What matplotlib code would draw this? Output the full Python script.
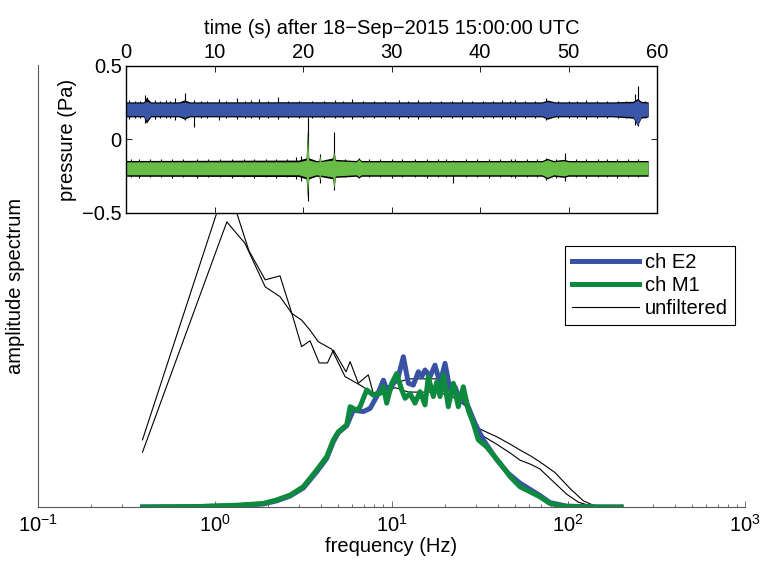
import matplotlib
matplotlib.use('Agg')
import matplotlib.pyplot as plt
from matplotlib.ticker import LogLocator, NullFormatter

plt.rcParams['font.family'] = ['Liberation Sans', 'DejaVu Sans']
plt.rcParams['mathtext.fontset'] = 'custom'
plt.rcParams['mathtext.rm'] = 'Liberation Sans'
plt.rcParams['mathtext.it'] = 'Liberation Sans:italic'
plt.rcParams['font.size'] = 14.5

# ---- spectra (main axes), frequency in Hz, amplitude normalised ----
F_E2 = [0.39, 0.8, 1.33, 1.88, 2.24, 2.67, 3.17, 3.78, 4.30, 4.69, 5.00, 5.58, 6.08, 6.93, 7.56,
        8.25, 8.99, 9.59, 10.24, 10.93, 11.67, 12.45, 13.29, 14.18, 14.82, 15.47, 16.51, 17.62,
        18.81, 20.08, 21.43, 22.87, 24.41, 26.64, 29.68, 33.07, 39.4, 45.8, 53.3, 69.2, 78.8,
        98, 150, 199]
A_E2 = [0.0, 0.001, 0.003, 0.007, 0.014, 0.025, 0.043, 0.080, 0.110, 0.148, 0.168, 0.184, 0.219,
        0.216, 0.223, 0.250, 0.287, 0.257, 0.280, 0.295, 0.340, 0.280, 0.276, 0.306, 0.295, 0.310,
        0.295, 0.321, 0.280, 0.325, 0.265, 0.272, 0.242, 0.235, 0.189, 0.152, 0.107, 0.076, 0.054,
        0.026, 0.010, 0.002, 0.0, 0.0]

F_M1 = [0.39, 0.8, 1.33, 1.88, 2.24, 2.67, 3.17, 3.78, 4.30, 4.69, 5.00, 5.58, 5.83, 6.36, 6.64,
        7.24, 7.89, 8.61, 8.99, 9.39, 10.03, 10.70, 11.42, 11.93, 12.73, 13.58, 14.50, 15.47,
        16.15, 17.24, 18.02, 18.81, 19.64, 20.96, 22.37, 23.87, 25.48, 27.20, 29.03, 30.98,
        34.56, 41.1, 46.8, 53.3, 69.2, 78.8, 98, 150, 199]
A_M1 = [0.0, 0.001, 0.004, 0.008, 0.016, 0.027, 0.046, 0.084, 0.114, 0.152, 0.170, 0.186, 0.227,
        0.219, 0.227, 0.265, 0.253, 0.257, 0.272, 0.235, 0.280, 0.302, 0.265, 0.246, 0.257, 0.235,
        0.261, 0.231, 0.295, 0.250, 0.283, 0.250, 0.299, 0.227, 0.280, 0.227, 0.272, 0.219, 0.189,
        0.152, 0.136, 0.099, 0.069, 0.046, 0.023, 0.008, 0.001, 0.0, 0.0]

F_RAW_A = [0.39, 1.17, 1.56, 1.93, 2.34, 2.73, 3.10, 3.46, 3.90, 4.34, 4.69, 5.53, 5.83, 6.49,
           7.39, 7.89, 9.0, 10.5, 12.5, 15.0, 18.0, 22.0, 26.0, 30.98, 39.4, 47.0, 53.3, 61.0,
           69.2, 84.1, 102.3, 121.7, 138.6, 150]
A_RAW_A = [0.152, 0.735, 0.58, 0.514, 0.523, 0.438, 0.363, 0.376, 0.326, 0.326, 0.355, 0.306,
           0.329, 0.280, 0.299, 0.257, 0.27, 0.28, 0.29, 0.29, 0.29, 0.27, 0.24, 0.178, 0.159,
           0.142, 0.129, 0.116, 0.102, 0.078, 0.042, 0.014, 0.004, 0.0]

F_RAW_B = [0.39, 1.17, 1.48, 1.93, 2.34, 2.73, 3.10, 3.46, 3.85, 4.59, 5.46, 6.64, 7.89, 9.0,
           10.5, 12.5, 15.0, 18.0, 22.0, 26.0, 30.98, 39.4, 47.0, 53.3, 61.0, 69.2, 82.0, 98.0,
           114, 132.7, 150]
A_RAW_B = [0.124, 0.645, 0.597, 0.498, 0.476, 0.438, 0.423, 0.400, 0.374, 0.357, 0.295, 0.276,
           0.257, 0.26, 0.27, 0.26, 0.26, 0.26, 0.25, 0.23, 0.167, 0.142, 0.122, 0.106, 0.097,
           0.086, 0.058, 0.029, 0.011, 0.003, 0.0]

# ---- pressure traces (inset), envelopes ----
T_E2 = [0, 2.0, 2.3, 2.8, 6.0, 6.6, 7.2, 20, 30, 40, 47.0, 47.6, 48.5, 55, 57.3, 57.8, 58.2, 59]
E2_HI = [0.248, 0.248, 0.262, 0.248, 0.248, 0.255, 0.248, 0.249, 0.248, 0.248, 0.248, 0.258,
         0.248, 0.248, 0.250, 0.27, 0.250, 0.248]
E2_LO = [0.162, 0.162, 0.128, 0.162, 0.162, 0.150, 0.162, 0.161, 0.162, 0.162, 0.162, 0.148,
         0.162, 0.162, 0.155, 0.098, 0.155, 0.161]
RAW_E2_HI = [0.256, 0.256, 0.285, 0.256, 0.256, 0.27, 0.256, 0.257, 0.256, 0.256, 0.256, 0.268,
             0.256, 0.256, 0.26, 0.28, 0.26, 0.256]
RAW_E2_LO = [0.154, 0.154, 0.112, 0.154, 0.154, 0.138, 0.154, 0.153, 0.154, 0.154, 0.154, 0.138,
             0.154, 0.154, 0.145, 0.095, 0.145, 0.153]

T_M1 = [0, 19.5, 20.35, 20.5, 20.65, 21.5, 21.8, 21.9, 22.0, 23.35, 23.5, 23.65, 26.0, 26.3,
        26.6, 37, 47.0, 47.6, 48.3, 49.5, 50, 59]
M1_HI = [-0.152, -0.152, -0.140, 0.045, -0.140, -0.152, -0.150, -0.105, -0.150, -0.140, -0.083,
         -0.145, -0.152, -0.135, -0.152, -0.152, -0.152, -0.138, -0.152, -0.145, -0.152, -0.152]
M1_LO = [-0.240, -0.240, -0.255, -0.375, -0.255, -0.240, -0.242, -0.275, -0.242, -0.255, -0.33,
         -0.248, -0.240, -0.252, -0.240, -0.240, -0.240, -0.258, -0.240, -0.248, -0.240, -0.240]
RAW_M1_HI = [-0.143, -0.140, -0.125, 0.06, -0.125, -0.143, -0.143, -0.10, -0.143, -0.125, -0.07,
             -0.135, -0.143, -0.128, -0.143, -0.143, -0.143, -0.128, -0.143, -0.135, -0.143, -0.143]
RAW_M1_LO = [-0.250, -0.252, -0.268, -0.39, -0.268, -0.250, -0.252, -0.285, -0.252, -0.268,
             -0.34, -0.258, -0.250, -0.262, -0.250, -0.250, -0.250, -0.268, -0.250, -0.258,
             -0.250, -0.250]

# black spikes of the unfiltered traces
SPK_E2_T = [0.3, 1.0, 1.6, 2.1, 2.4, 3.3, 3.8, 4.5, 5.0, 5.5, 6.7, 7.7, 8.5, 9.2, 10.5, 11.3,
            12.5, 13.4, 14.1, 15.0, 16.0, 17.2, 18.3, 19.5, 21.0, 22.4, 23.6, 24.5, 25.5, 26.8,
            28.0, 29.3, 30.8, 31.9, 33.0, 34.4, 35.6, 36.8, 38.0, 39.1, 40.3, 41.5, 42.5, 43.4,
            44.0, 45.1, 46.2, 47.5, 48.8, 50.1, 51.0, 52.0, 53.2, 54.3, 55.6, 56.5, 57.5, 57.9,
            58.6]
SPK_E2_HI = [0.27, 0.262, 0.265, 0.30, 0.29, 0.27, 0.262, 0.268, 0.263, 0.28, 0.315, 0.27,
             0.264, 0.262, 0.275, 0.265, 0.285, 0.264, 0.268, 0.275, 0.263, 0.288, 0.265, 0.262,
             0.264, 0.262, 0.266, 0.263, 0.275, 0.262, 0.264, 0.263, 0.27, 0.262, 0.268, 0.263,
             0.264, 0.262, 0.268, 0.263, 0.264, 0.262, 0.27, 0.264, 0.268, 0.263, 0.262, 0.28,
             0.262, 0.264, 0.263, 0.268, 0.262, 0.264, 0.263, 0.262, 0.31, 0.365, 0.265]
SPK_E2_LO = [0.14, 0.148, 0.145, 0.11, 0.12, 0.14, 0.148, 0.145, 0.146, 0.135, 0.13, 0.085,
             0.145, 0.148, 0.135, 0.146, 0.14, 0.145, 0.147, 0.14, 0.146, 0.14, 0.147, 0.145,
             0.146, 0.148, 0.145, 0.147, 0.14, 0.146, 0.145, 0.148, 0.138, 0.146, 0.142, 0.147,
             0.145, 0.146, 0.14, 0.147, 0.145, 0.146, 0.142, 0.147, 0.14, 0.145, 0.146, 0.13,
             0.147, 0.145, 0.146, 0.138, 0.146, 0.147, 0.145, 0.146, 0.10, 0.09, 0.145]

SPK_M1_T = [0.6, 1.5, 2.7, 4.0, 5.2, 6.4, 8.0, 9.3, 10.6, 12.0, 13.3, 14.5, 15.8, 17.0, 18.2,
            19.2, 19.8, 20.55, 21.9, 23.55, 24.8, 26.3, 27.5, 28.7, 30.0, 31.2, 32.6, 34.0, 35.3,
            36.2, 37.0, 38.4, 39.7, 41.0, 42.3, 43.5, 44.0, 45.3, 46.4, 47.5, 48.6, 49.6, 50.8,
            52.0, 53.3, 54.4, 55.5, 56.7, 57.8]
SPK_M1_HI = [-0.135, -0.13, -0.136, -0.132, -0.135, -0.136, -0.133, -0.135, -0.136, -0.13,
             -0.135, -0.132, -0.136, -0.13, -0.135, -0.12, -0.115, 0.15, -0.10, 0.05, -0.135,
             -0.125, -0.136, -0.134, -0.13, -0.136, -0.135, -0.132, -0.136, -0.135, -0.138,
             -0.134, -0.136, -0.13, -0.136, -0.135, -0.132, -0.136, -0.134, -0.125, -0.135,
             -0.09, -0.136, -0.132, -0.136, -0.135, -0.13, -0.136, -0.135]
SPK_M1_LO = [-0.258, -0.262, -0.256, -0.258, -0.26, -0.257, -0.262, -0.256, -0.258, -0.262,
             -0.257, -0.26, -0.256, -0.262, -0.258, -0.27, -0.28, -0.42, -0.295, -0.345, -0.258,
             -0.265, -0.256, -0.258, -0.262, -0.257, -0.258, -0.26, -0.256, -0.258, -0.295,
             -0.258, -0.256, -0.262, -0.257, -0.258, -0.262, -0.256, -0.258, -0.275, -0.262,
             -0.285, -0.258, -0.262, -0.256, -0.258, -0.265, -0.257, -0.258]

C_E2 = '#3953a4'
C_M1 = '#0e8a3e'
C_E2_BAND = '#3a56a8'
C_M1_BAND = '#68bd47'

fig = plt.figure(figsize=(7.6, 5.66), dpi=100)

# ========== main axes: spectra ==========
ax = fig.add_axes([0.05, 0.1042, 0.9303, 0.7809])
ax.plot(F_RAW_A, A_RAW_A, color='k', lw=0.8, zorder=1)
ax.plot(F_RAW_B, A_RAW_B, color='k', lw=0.8, zorder=1, label='unfiltered')
ax.plot(F_E2, A_E2, color=C_E2, lw=3.6, zorder=2, label='ch E2', solid_joinstyle='round')
ax.plot(F_M1, A_M1, color=C_M1, lw=3.6, zorder=3, label='ch M1', solid_joinstyle='round')

ax.set_xscale('log')
ax.set_xlim(0.1, 1000)
ax.set_ylim(0, 1)
ax.set_yticks([])
ax.xaxis.set_major_locator(LogLocator(base=10, numticks=10))
ax.xaxis.set_minor_locator(LogLocator(base=10, subs=range(2, 10), numticks=20))
ax.xaxis.set_minor_formatter(NullFormatter())
ax.tick_params(axis='x', which='major', direction='in', length=4.5, width=0.6, pad=5,
               colors='0.35', labelcolor='k')
ax.tick_params(axis='x', which='minor', direction='in', length=2.5, width=0.6, colors='0.35')
for s in ['top', 'right']:
    ax.spines[s].set_visible(False)
for s in ['left', 'bottom']:
    ax.spines[s].set_color('0.35')
    ax.spines[s].set_linewidth(0.8)
ax.set_xlabel('frequency (Hz)', labelpad=1)
ax.set_ylabel('amplitude spectrum', labelpad=9)

h, l = ax.get_legend_handles_labels()
order = [l.index('ch E2'), l.index('ch M1'), l.index('unfiltered')]
leg = ax.legend([h[i] for i in order], [l[i] for i in order], loc='upper right',
                bbox_to_anchor=(0.967, 0.566), bbox_transform=fig.transFigure,
                fancybox=False, edgecolor='k', framealpha=1, handlelength=3.3,
                borderaxespad=0, labelspacing=0.2, handletextpad=0.3, borderpad=0.35)
leg.get_frame().set_linewidth(0.8)

# ========== inset: pressure traces ==========
ax_in = fig.add_axes([0.1658, 0.6237, 0.6987, 0.2597])
ax_in.set_facecolor('white')
ax_in.fill_between(T_E2, RAW_E2_LO, RAW_E2_HI, color='k', lw=0, zorder=1)
ax_in.vlines(SPK_E2_T, SPK_E2_LO, SPK_E2_HI, color='k', lw=0.8, zorder=1)
ax_in.fill_between(T_E2, E2_LO, E2_HI, color=C_E2_BAND, lw=0, zorder=2)
ax_in.fill_between(T_M1, RAW_M1_LO, RAW_M1_HI, color='k', lw=0, zorder=1)
ax_in.vlines(SPK_M1_T, SPK_M1_LO, SPK_M1_HI, color='k', lw=0.8, zorder=1)
ax_in.fill_between(T_M1, M1_LO, M1_HI, color=C_M1_BAND, lw=0, zorder=2)

ax_in.set_xlim(0, 60)
ax_in.set_ylim(-0.5, 0.5)
ax_in.set_xticks([0, 10, 20, 30, 40, 50, 60])
ax_in.set_yticks([-0.5, 0, 0.5])
ax_in.set_yticklabels(['\u22120.5', '0', '0.5'])
ax_in.xaxis.set_label_position('top')
ax_in.tick_params(direction='in', length=4.5, width=0.6, top=True, bottom=True,
                  left=True, right=True, labeltop=True, labelbottom=False, pad=3)
for s in ax_in.spines.values():
    s.set_linewidth(1.0)
ax_in.set_xlabel('time (s) after 18\u2212Sep\u22122015 15:00:00 UTC', labelpad=6)
ax_in.set_ylabel('pressure (Pa)', labelpad=4)

fig.savefig('out.png', dpi=100)
